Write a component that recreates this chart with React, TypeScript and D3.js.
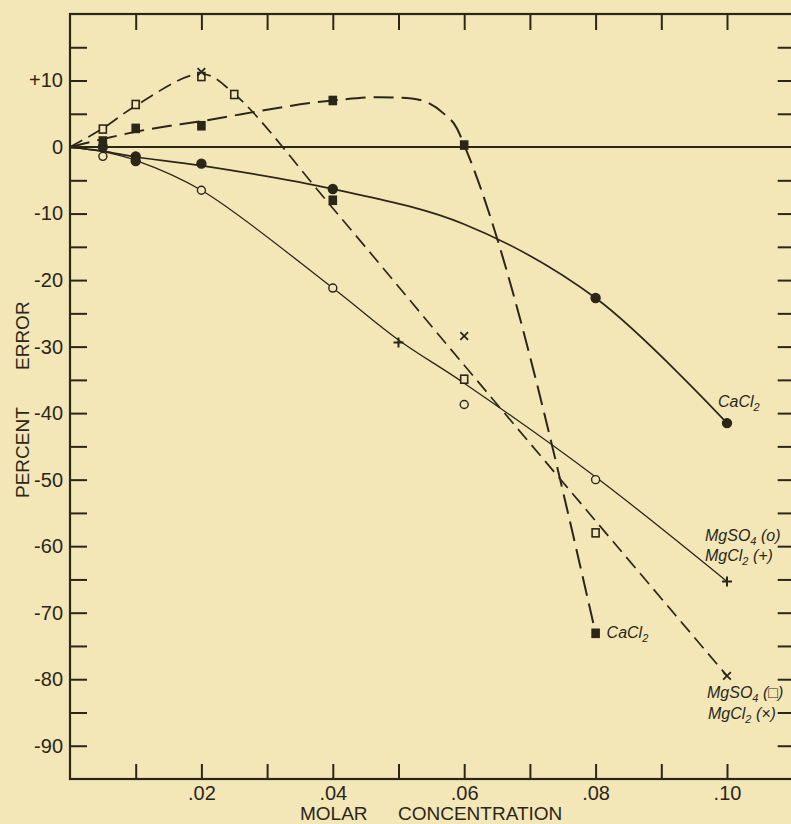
import { useEffect, useRef } from "react";
import * as d3 from "d3";

type Pt = [number, number];

// x = molar concentration, y = percent error
const caSolidCurve: Pt[] = [[0, 0], [0.005, -0.6], [0.01, -1.5], [0.02, -2.8], [0.04, -6.3], [0.06, -11.6], [0.08, -22.7], [0.1, -41.5]];
const mgSolidCurve: Pt[] = [[0, 0], [0.005, -0.7], [0.01, -2.0], [0.02, -6.5], [0.04, -21.2], [0.05, -29.0], [0.06, -35.5], [0.08, -49.6], [0.1, -65.3]];
const caDashedCurve: Pt[] = [[0, 0], [0.005, 1.2], [0.01, 2.3], [0.02, 3.9], [0.04, 7.0], [0.047, 7.5], [0.052, 7.3], [0.0568, 5.1], [0.0589, 2.8], [0.06, 0.3], [0.08, -73.1]];
const mgDashedCurve: Pt[] = [[0, 0], [0.005, 2.8], [0.01, 6.2], [0.02, 11.0], [0.025, 8.0], [0.04, -9.2], [0.06, -32.8], [0.08, -56.2], [0.1, -79.5]];

const caCircles: Pt[] = [[0.005, 0], [0.01, -1.4], [0.02, -2.5], [0.04, -6.3], [0.08, -22.7], [0.1, -41.5]];
const mgCirclesOpen: Pt[] = [[0.005, -1.4], [0.02, -6.5], [0.04, -21.2], [0.06, -38.7], [0.08, -50.0]];
const mgCirclesFilled: Pt[] = [[0.01, -2.1]];
const caSquares: Pt[] = [[0.005, 0.9], [0.01, 2.8], [0.02, 3.2], [0.04, 7.0], [0.06, 0.3], [0.08, -73.1], [0.04, -8.0]];
const mgSquaresOpen: Pt[] = [[0.005, 2.7], [0.01, 6.4], [0.02, 10.6], [0.025, 7.9], [0.06, -34.9], [0.08, -58.0]];
const mgCrosses: Pt[] = [[0.02, 11.3], [0.06, -28.4], [0.1, -79.5]];
const mgPluses: Pt[] = [[0.05, -29.4], [0.1, -65.3]];

const xTicks = d3.range(1, 11).map(d => d / 100);
const yTicks = d3.range(-90, 20, 5);

const W = 791, H = 824;
const INK = "#2b2618";
const BG = "#f3e7b8";
const FONT = "'Liberation Sans', Arial, sans-serif";

export default function App() {
  const ref = useRef<SVGSVGElement>(null);

  useEffect(() => {
    const svg = d3.select(ref.current);
    svg.selectAll("*").remove();

    const x = d3.scaleLinear().domain([0, 0.11]).range([70, 792.7]);
    const y = d3.scaleLinear().domain([-95, 20]).range([779, 14]);

    svg.append("rect").attr("width", W).attr("height", H).attr("fill", BG);

    const styleAxis = (g: any) => {
      g.select(".domain").remove();
      g.selectAll("line").attr("stroke", INK).attr("stroke-width", 2);
      g.selectAll("text").attr("fill", INK).style("font-family", FONT).style("font-size", "20px");
    };

    const yFmt = (d: number) => (d % 10 !== 0 ? "" : d > 0 ? `+${d}` : d === 0 ? "0" : `-${Math.abs(d)}`);
    svg.append("g").attr("transform", `translate(${x(0)},0)`)
      .call(d3.axisLeft(y).tickValues(yTicks).tickSize(-17).tickPadding(7).tickFormat(yFmt as any))
      .call(styleAxis);
    svg.append("g").attr("transform", `translate(${x(0.11)},0)`)
      .call(d3.axisRight(y).tickValues(yTicks.filter(d => d !== 0)).tickSize(-15).tickFormat(() => ""))
      .call(styleAxis);

    const xFmt = (d: number) => (Math.round(d * 100) % 2 === 0 ? d3.format(".2f")(d).replace(/^0/, "") : "");
    svg.append("g").attr("transform", `translate(0,${y(-95)})`)
      .call(d3.axisBottom(x).tickValues(xTicks).tickSize(-15).tickPadding(7).tickFormat(xFmt as any))
      .call(styleAxis);
    svg.append("g").attr("transform", `translate(0,${y(20)})`)
      .call(d3.axisTop(x).tickValues(xTicks).tickSize(-16).tickFormat(() => ""))
      .call(styleAxis);

    // frame and zero line
    svg.append("rect").attr("x", x(0)).attr("y", y(20))
      .attr("width", x(0.11) - x(0)).attr("height", y(-95) - y(20))
      .attr("fill", "none").attr("stroke", INK).attr("stroke-width", 2.2);
    svg.append("line").attr("x1", x(0)).attr("x2", x(0.11)).attr("y1", y(0)).attr("y2", y(0))
      .attr("stroke", INK).attr("stroke-width", 2);

    const smooth = d3.line<Pt>().x(d => x(d[0])).y(d => y(d[1])).curve(d3.curveCatmullRom.alpha(0.5));
    const mono = d3.line<Pt>().x(d => x(d[0])).y(d => y(d[1])).curve(d3.curveMonotoneX);
    const path = (d: string | null, w: number, dash?: string) => {
      const p = svg.append("path").attr("d", d).attr("fill", "none")
        .attr("stroke", INK).attr("stroke-width", w);
      if (dash) p.attr("stroke-dasharray", dash);
    };
    path(smooth(caSolidCurve), 1.7);
    path(smooth(mgSolidCurve), 1.3);
    path(mono(caDashedCurve), 2, "20,8");
    path(smooth(mgDashedCurve), 1.7, "14,7");

    // markers
    const circles = (data: Pt[], filled: boolean) =>
      svg.append("g").selectAll("circle").data(data).enter().append("circle")
        .attr("cx", d => x(d[0])).attr("cy", d => y(d[1])).attr("r", filled ? 4.5 : 4)
        .attr("fill", filled ? INK : BG).attr("stroke", INK).attr("stroke-width", 1.4);
    const squares = (data: Pt[], filled: boolean) =>
      svg.append("g").selectAll("rect").data(data).enter().append("rect")
        .attr("x", d => x(d[0]) - 3.5).attr("y", d => y(d[1]) - 4).attr("width", 7).attr("height", 8)
        .attr("fill", filled ? INK : BG).attr("stroke", INK).attr("stroke-width", 1.6);
    circles(caCircles, true);
    circles(mgCirclesOpen, false);
    circles(mgCirclesFilled, true);
    squares(mgSquaresOpen, false);
    squares(caSquares, true);

    const cross = d3.symbol().type(d3.symbolX).size(40);
    svg.append("g").selectAll("path").data(mgCrosses).enter().append("path")
      .attr("d", cross).attr("transform", d => `translate(${x(d[0])},${y(d[1])})`)
      .attr("stroke", INK).attr("stroke-width", 1.8).attr("fill", "none");
    svg.append("g").selectAll("path").data(mgPluses).enter().append("path")
      .attr("d", d => { const cx = x(d[0]), cy = y(d[1]); return `M${cx - 5},${cy}H${cx + 5}M${cx},${cy - 5}V${cy + 5}`; })
      .attr("stroke", INK).attr("stroke-width", 2).attr("fill", "none");

    // curve labels
    const label = (lx: number, ly: number, main: string, sub: string, tail: string) => {
      const t = svg.append("text").attr("x", lx).attr("y", ly).attr("fill", INK)
        .style("font-family", FONT).style("font-style", "italic").style("font-size", "16px");
      t.append("tspan").text(main);
      t.append("tspan").attr("dy", 4).style("font-size", "11px").text(sub);
      t.append("tspan").attr("dy", -4).text(tail);
    };
    label(x(0.1) - 9, y(-41.5) - 16, "CaCl", "2", "");
    label(x(0.1) - 22, y(-65.3) - 40, "MgSO", "4", " (o)");
    label(x(0.1) - 22, y(-65.3) - 20, "MgCl", "2", " (+)");
    label(x(0.08) + 11, y(-73.1) + 5, "CaCl", "2", "");
    label(x(0.1) - 20, y(-79.5) + 22, "MgSO", "4", " (\u25A1)");
    label(x(0.1) - 19, y(-79.5) + 43, "MgCl", "2", " (\u00D7)");

    // axis titles
    svg.append("text").attr("x", 300).attr("y", 820).attr("fill", INK)
      .style("font-family", FONT).style("font-size", "19px").text("MOLAR");
    svg.append("text").attr("x", 398).attr("y", 820).attr("fill", INK)
      .style("font-family", FONT).style("font-size", "19px").text("CONCENTRATION");
    svg.append("text").attr("transform", "translate(29,498) rotate(-90)").attr("fill", INK)
      .style("font-family", FONT).style("font-size", "19px").text("PERCENT");
    svg.append("text").attr("transform", "translate(29,370) rotate(-90)").attr("fill", INK)
      .style("font-family", FONT).style("font-size", "19px").text("ERROR");
  }, []);

  return (
    <svg ref={ref} width={W} height={H}
      style={{ position: "absolute", left: 0, top: 0, display: "block" }} />
  );
}
